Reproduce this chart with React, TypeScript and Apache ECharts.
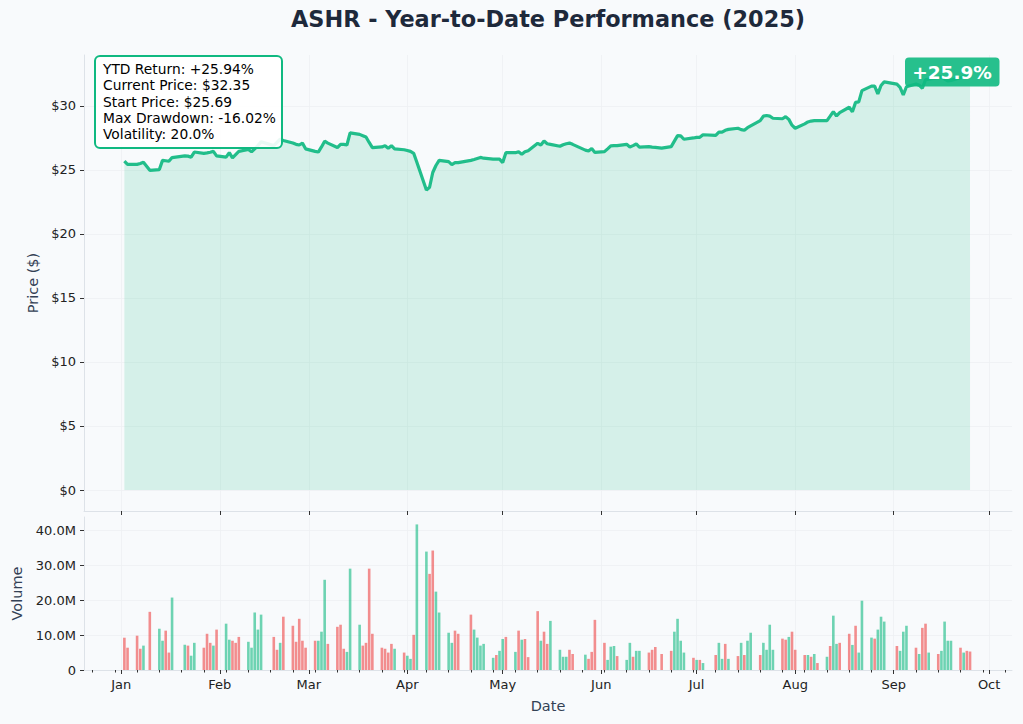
import React, { useEffect, useRef } from "react";
import * as echarts from "echarts";

// ---------- data ----------
const FIRST_DAY = [2025, 0, 2];
const LAST_DAY = [2025, 8, 25];
const HOLIDAYS = ["2025-01-09", "2025-01-20", "2025-02-17", "2025-04-18", "2025-05-26", "2025-06-19", "2025-07-04", "2025-09-01"];

const MONTH_LABELS = ["Jan", "Feb", "Mar", "Apr", "May", "Jun", "Jul", "Aug", "Sep", "Oct"];

// daily closing prices ($), one row per trading week
const closePrices = [
  25.69, 25.44,
  25.44, 25.5, 25.6, 24.97,
  25.03, 25.75, 25.72, 25.68, 25.97,
  26.1, 26.08, 26.0, 26.4,
  26.3, 26.33, 26.38, 26.45, 26.1,
  26.0, 26.35, 25.95, 26.2, 26.45,
  26.6, 26.42, 26.65, 26.9, 27.2,
  26.9, 27.15, 27.4, 27.3,
  27.1, 27.0, 26.95, 27.1, 26.65,
  26.45, 26.4, 26.8, 27.25, 27.1,
  26.75, 27.0, 27.0, 26.95, 27.9,
  27.78, 27.68, 27.58, 27.15, 26.75,
  26.8, 26.9, 26.7, 26.9, 26.65,
  26.58, 26.52, 26.45, 26.3, 25.6,
  23.44, 23.65, 24.8, 25.35, 25.75,
  25.65, 25.42, 25.57, 25.57,
  25.75, 25.82, 25.9, 25.98, 25.92,
  25.85, 25.85, 25.84, 25.58, 26.35,
  26.35, 26.42, 26.22, 26.42, 26.5,
  27.08, 26.95, 27.27, 27.05, 27.0,
  26.85, 26.97, 27.05, 27.1, 27.0,
  26.55, 26.48, 26.67, 26.37,
  26.43, 26.65, 26.88, 26.9, 26.9,
  27.0, 26.8, 26.9, 27.03, 26.78,
  26.82, 26.78, 26.76, 26.7,
  26.82, 27.25, 27.68, 27.66, 27.4,
  27.5, 27.55, 27.55, 27.75,
  27.7, 27.95, 27.95, 28.1, 28.17,
  28.26, 28.15, 28.1, 28.3, 28.44,
  28.85, 29.2, 29.25, 29.2, 29.04,
  29.0, 29.16, 28.95, 28.5, 28.26,
  28.6, 28.75, 28.82, 28.85, 28.85,
  28.85, 29.2, 29.56, 29.22, 29.48,
  29.9, 29.55, 30.28, 30.32, 31.2,
  31.55, 31.55, 30.94, 31.6, 31.88,
  31.7, 31.45, 30.86, 31.5,
  31.72, 31.62, 31.38, 32.05, 32.1,
  32.2, 32.3, 32.1, 31.95, 32.0,
  32.2, 32.25, 32.3, 32.35,
];

// daily volume (millions of shares)
const volumesM = [
  9.27, 6.4,
  9.85, 6.1, 7.0, 16.7,
  11.85, 8.4, 11.3, 5.0, 20.8,
  7.25, 7.0, 4.1, 7.8,
  6.4, 10.4, 7.8, 7.0, 11.6,
  13.3, 8.7, 8.4, 7.8, 9.5,
  8.1, 6.4, 16.5, 11.6, 15.9,
  9.5, 5.8, 7.8, 15.3,
  12.7, 8.1, 14.7, 8.4, 6.4,
  8.4, 8.4, 11.0, 25.9, 7.5,
  12.4, 13.0, 6.1, 5.2, 29.1,
  13.0, 7.0, 7.8, 29.1, 10.4,
  6.4, 6.1, 5.0, 7.5, 6.1,
  5.0, 4.1, 3.2, 10.1, 41.8,
  34.0, 27.6, 34.3, 22.5, 16.5,
  10.7, 7.8, 11.3, 10.4,
  15.9, 11.6, 9.3, 7.0, 7.5,
  3.5, 4.3, 5.5, 8.9, 9.5,
  5.2, 11.3, 8.7, 8.9, 3.7,
  16.9, 8.4, 11.0, 7.5, 14.1,
  5.8, 3.8, 3.8, 5.8, 4.6,
  4.4, 3.2, 5.2, 14.4,
  7.8, 2.9, 6.7, 6.9, 4.0,
  2.9, 7.8, 3.8, 5.5, 5.5,
  5.0, 5.8, 6.6, 4.6,
  5.5, 11.0, 14.7, 8.4, 5.0,
  3.5, 2.9, 2.9, 2.0,
  4.3, 7.8, 3.2, 7.5, 3.2,
  4.0, 7.8, 4.3, 8.4, 10.7,
  4.3, 7.8, 5.8, 13.0, 5.8,
  9.0, 8.7, 9.5, 11.0, 5.8,
  4.3, 4.3, 3.8, 4.6, 2.0,
  3.8, 6.9, 15.6, 7.5, 7.8,
  10.4, 7.2, 12.7, 5.0, 19.9,
  9.3, 9.0, 11.6, 15.3, 13.9,
  6.9, 5.5, 11.0, 12.7,
  6.4, 4.6, 12.1, 13.3, 5.0,
  4.6, 5.5, 13.9, 8.4, 8.4,
  6.4, 5.0, 5.5, 5.3,
];

// u = up day (green bar), d = down day (red bar), grouped by week
const dayDirection = (
  "dd ddud uuddu uduu dddud uuddd uuuuu ddud ddddd duuud " +
  "ddduu uddd dd dddud uuduu dduuu uddd uuuuu duudu duddd uddu u " +
  "uudd u dddd uuudu uduud dddd uuuud udud uudud uduud uuuud " +
  "duddd ududu duudd uduuu duuud uuud uddud uuuud uddd"
).replace(/\s+/g, "").split("");

const priceTicks = [0, 5, 10, 15, 20, 25, 30];
const volumeTicks = [0, 10, 20, 30, 40];

const STATS_TEXT = [
  "YTD Return: +25.94%",
  "Current Price: $32.35",
  "Start Price: $25.69",
  "Max Drawdown: -16.02%",
  "Volatility: 20.0%",
];
const BADGE_TEXT = "+25.9%";
const TITLE = "ASHR - Year-to-Date Performance (2025)";

// ---------- derived ----------
const DAY = 86400000;
function tradingDays(): number[] {
  const out: number[] = [];
  const end = Date.UTC(LAST_DAY[0], LAST_DAY[1], LAST_DAY[2]);
  for (let t = Date.UTC(FIRST_DAY[0], FIRST_DAY[1], FIRST_DAY[2]); t <= end; t += DAY) {
    const d = new Date(t);
    const wd = d.getUTCDay();
    if (wd === 0 || wd === 6) continue;
    if (HOLIDAYS.includes(d.toISOString().slice(0, 10))) continue;
    out.push(t);
  }
  return out;
}

const FONT = "DejaVu Sans";
const GREEN = "#10b981";
const RED = "#ef4444";

function buildOption() {
  const dates = tradingDays();
  const n = Math.min(dates.length, closePrices.length, volumesM.length);
  const T0 = Date.UTC(2025, 0, 1);
  const xMin = T0 - 11.7 * DAY;
  const xMax = T0 + 280.2 * DAY;
  const monthStarts = MONTH_LABELS.map((_, i) => Date.UTC(2025, i, 1));
  const mondays: number[] = [];
  for (let t = Date.UTC(2024, 11, 23); t <= xMax; t += 7 * DAY) {
    if (!monthStarts.includes(t)) mondays.push(t);
  }

  const priceData: any[] = [];
  const volData: any[] = [];
  for (let i = 0; i < n; i++) {
    priceData.push([dates[i], closePrices[i]]);
    const up = dayDirection[i] === "u";
    volData.push({
      value: [dates[i], volumesM[i]],
      itemStyle: { color: up ? GREEN : RED, opacity: 0.6 },
    });
  }

  const spine = "#dde2e8";
  const gridLine = "#edf0f3";
  const tickColor = "#333333";
  const labelColor = "#222222";
  const nameColor = "#334155";

  const monthFmt = (v: number) => MONTH_LABELS[new Date(v).getUTCMonth()];

  return {
    animation: false,
    backgroundColor: "#f8fafc",
    textStyle: { fontFamily: FONT },
    grid: [
      { left: 84, right: 11, top: 55, height: 456 },
      { left: 84, right: 11, top: 517, height: 153 },
    ],
    xAxis: [
      {
        type: "value",
        gridIndex: 0,
        min: xMin,
        max: xMax,
        position: "bottom",
        axisLine: { show: true, onZero: false, lineStyle: { color: spine, width: 1 } },
        axisTick: { show: true, length: 4, customValues: monthStarts, lineStyle: { color: tickColor } },
        axisLabel: { show: false },
        splitLine: { show: true, lineStyle: { color: gridLine, width: 0.8 } },
      },
      {
        type: "value",
        gridIndex: 1,
        min: xMin,
        max: xMax,
        position: "bottom",
        name: "Date",
        nameLocation: "middle",
        nameGap: 28,
        nameTextStyle: { fontFamily: FONT, fontSize: 14.5, color: nameColor },
        axisLine: { show: true, onZero: false, lineStyle: { color: spine, width: 1 } },
        axisTick: { show: true, length: 4, customValues: monthStarts, lineStyle: { color: tickColor } },
        axisLabel: {
          show: true,
          customValues: monthStarts,
          formatter: monthFmt,
          fontFamily: FONT,
          fontSize: 13,
          color: labelColor,
          margin: 8,
        },
        splitLine: { show: true, lineStyle: { color: gridLine, width: 0.8 } },
      },
      {
        type: "value",
        gridIndex: 1,
        min: xMin,
        max: xMax,
        position: "bottom",
        axisLine: { show: false, onZero: false },
        axisTick: { show: true, length: 2.5, customValues: mondays, lineStyle: { color: tickColor } },
        axisLabel: { show: false },
        splitLine: { show: false },
      },
    ],
    yAxis: [
      {
        type: "value",
        gridIndex: 0,
        min: -1.64,
        max: 33.98,
        name: "Price ($)",
        nameLocation: "middle",
        nameGap: 43,
        nameTextStyle: { fontFamily: FONT, fontSize: 14.5, color: nameColor },
        axisLine: { show: true, onZero: false, lineStyle: { color: spine, width: 1 } },
        axisTick: { show: true, length: 4, customValues: priceTicks, lineStyle: { color: tickColor } },
        axisLabel: {
          customValues: priceTicks,
          formatter: (v: number) => "$" + v,
          fontFamily: FONT,
          fontSize: 13,
          color: labelColor,
          margin: 8,
        },
        splitLine: { show: true, lineStyle: { color: gridLine, width: 0.8 } },
      },
      {
        type: "value",
        gridIndex: 1,
        min: 0,
        max: 43.93,
        name: "Volume",
        nameLocation: "middle",
        nameGap: 60,
        nameTextStyle: { fontFamily: FONT, fontSize: 14.5, color: nameColor },
        axisLine: { show: true, onZero: false, lineStyle: { color: spine, width: 1 } },
        axisTick: { show: true, length: 4, customValues: volumeTicks, lineStyle: { color: tickColor } },
        axisLabel: {
          customValues: volumeTicks,
          formatter: (v: number) => (v === 0 ? "0" : v.toFixed(1) + "M"),
          fontFamily: FONT,
          fontSize: 13,
          color: labelColor,
          margin: 8,
        },
        splitLine: { show: true, lineStyle: { color: gridLine, width: 0.8 } },
      },
    ],
    series: [
      {
        type: "line",
        name: "ASHR",
        xAxisIndex: 0,
        yAxisIndex: 0,
        data: priceData,
        showSymbol: false,
        symbol: "none",
        smooth: false,
        lineStyle: { color: GREEN, width: 3.2, opacity: 0.92 },
        itemStyle: { color: GREEN },
        areaStyle: { color: GREEN, opacity: 0.15 },
        z: 3,
      },
      {
        type: "bar",
        name: "Volume",
        xAxisIndex: 1,
        yAxisIndex: 1,
        data: volData,
        barWidth: 2.6,
        z: 2,
      },
    ],
    graphic: [
      {
        type: "text",
        z: 101,
        x: 548,
        y: 19,
        style: {
          text: TITLE,
          fontFamily: FONT,
          fontSize: 22.4,
          fontWeight: "bold",
          fill: "#1e293b",
          align: "center",
          verticalAlign: "middle",
          textAlign: "center",
          textVerticalAlign: "middle",
        },
      },
      {
        type: "rect",
        z: 100,
        shape: { x: 95, y: 56, width: 187, height: 92, r: 5 },
        style: { fill: "rgba(255,255,255,0.9)", stroke: GREEN, lineWidth: 2 },
      },
      {
        type: "text",
        z: 101,
        x: 103,
        y: 61,
        style: {
          text: STATS_TEXT.join("\n"),
          fontFamily: FONT,
          fontSize: 13.8,
          lineHeight: 16.2,
          fill: "#000000",
        },
      },
      {
        type: "rect",
        z: 100,
        shape: { x: 905, y: 57.5, width: 94.5, height: 29, r: 4 },
        style: { fill: GREEN, opacity: 0.9 },
      },
      {
        type: "text",
        z: 101,
        x: 952,
        y: 72,
        style: {
          text: BADGE_TEXT,
          fontFamily: FONT,
          fontSize: 18.5,
          fontWeight: "bold",
          fill: "#ffffff",
          align: "center",
          verticalAlign: "middle",
          textAlign: "center",
          textVerticalAlign: "middle",
        },
      },
    ],
  };
}

export default function App() {
  const ref = useRef<HTMLDivElement>(null);
  useEffect(() => {
    document.body.style.margin = "0";
    if (!ref.current) return;
    const chart = echarts.init(ref.current, null, { renderer: "svg" });
    chart.setOption(buildOption() as any);
    return () => chart.dispose();
  }, []);
  return <div ref={ref} style={{ width: 1023, height: 724, background: "#f8fafc" }} />;
}
